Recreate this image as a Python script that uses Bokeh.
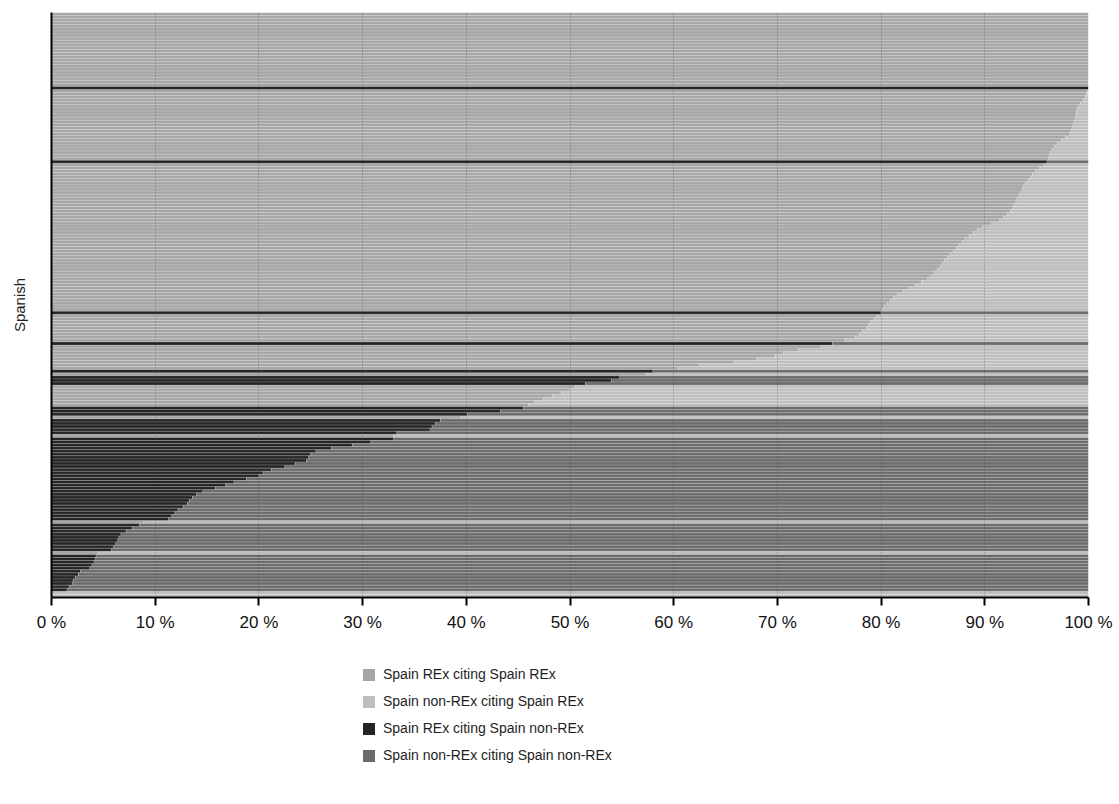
from bokeh.plotting import figure
from bokeh.layouts import column
from bokeh.models import Range1d, FixedTicker, Legend, LegendItem, ColumnDataSource
from bokeh.embed import file_html
from bokeh.resources import INLINE

# ---------------- data ----------------
series_names = [
    "Spain REx citing Spain REx",
    "Spain non-REx citing Spain REx",
    "Spain REx citing Spain non-REx",
    "Spain non-REx citing Spain non-REx",
]
series_colors = ["#a6a6a6", "#bebebe", "#252525", "#6b6b6b"]

x_ticks = [0, 10, 20, 30, 40, 50, 60, 70, 80, 90, 100]
x_tick_labels = ["0 %", "10 %", "20 %", "30 %", "40 %", "50 %",
                 "60 %", "70 %", "80 %", "90 %", "100 %"]
y_axis_title = "Spanish"

# share (%) of citations coming from Spain REx, one value per row, top to bottom
rex_share = [
    100, 100, 100, 100, 100, 100, 100, 100, 100, 100,
    100, 100, 100, 100, 100, 100, 100, 100, 100, 100,
    100, 100, 100, 100, 100, 99.9, 99.8, 99.7, 99.5, 99.2,
    99.0, 98.9, 98.8, 98.8, 98.7, 98.6, 98.5, 98.4, 98.3, 98.2,
    97.8, 97.4, 97.0, 96.7, 96.5, 96.3, 96.2, 96.1, 96.0, 95.7,
    95.3, 94.9, 94.6, 94.4, 94.2, 93.9, 93.7, 93.6, 93.4, 93.3,
    93.1, 93.0, 92.8, 92.7, 92.5, 92.2, 91.8, 91.4, 90.6, 89.8,
    89.3, 88.9, 88.5, 88.1, 87.8, 87.5, 87.3, 87.0, 86.7, 86.4,
    86.1, 85.9, 85.7, 85.4, 85.1, 84.8, 84.5, 83.9, 83.3, 82.7,
    82.1, 81.6, 81.2, 80.9, 80.6, 80.3, 80.1, 80.0, 79.6, 79.3,
    79.0, 78.8, 78.6, 78.2, 77.9, 77.5, 76.5, 75.3, 74.2, 72.0,
    70.6, 69.8, 68.0, 65.8, 62.5, 60.4, 58.0, 57.3, 54.8, 54.0,
    51.5, 50.5, 50.0, 49.2, 48.3, 47.4, 46.6, 46.0, 45.5, 43.3,
    40.1, 39.5, 37.5, 37.0, 36.7, 36.5, 33.3, 33.0, 33.0, 30.8,
    29.0, 27.0, 25.5, 25.0, 24.8, 24.6, 23.5, 22.5, 21.2, 20.4,
    20.0, 18.8, 17.6, 16.8, 15.8, 14.6, 14.0, 13.6, 13.3, 13.1,
    12.7, 12.2, 11.9, 11.6, 11.3, 8.9, 8.5, 7.8, 7.2, 6.7,
    6.5, 6.4, 6.2, 6.0, 5.8, 4.5, 4.3, 4.2, 4.1, 3.9,
    3.7, 2.8, 2.6, 2.3, 2.1, 2.0, 1.7, 1.5, 0, 0,
]

# group of the cited row: R = Spain REx, N = Spain non-REx (top to bottom)
cited_group = (
    "RRRRRRRRRR" "RRRRRRRRRR" "RRRRNRRRRR" "RRRRRRRRRR" "RRRRRRRRNR"
    "RRRRRRRRRR" "RRRRRRRRRR" "RRRRRRRRRR" "RRRRRRRRRR" "RRRRRRRNRR"
    "RRRRRRRNRR" "RRRRRRNRNN" "NRRRRRRRNN" "NRNNNNNRNN" "NNNNNNNNNN"
    "NNNNNNNNNN" "NNNNNRNNNN" "NNNNNRNNNN" "NNNNNNNNRR"
)

# ---------------- build the stacked series ----------------
N = len(rex_share)
rows = [i + 0.5 for i in range(N)]
rex_rex = [s if g == "R" else 0 for s, g in zip(rex_share, cited_group)]
nonrex_rex = [100 - s if g == "R" else 0 for s, g in zip(rex_share, cited_group)]
rex_nonrex = [s if g == "N" else 0 for s, g in zip(rex_share, cited_group)]
nonrex_nonrex = [100 - s if g == "N" else 0 for s, g in zip(rex_share, cited_group)]

keys = ["rex_rex", "nonrex_rex", "rex_nonrex", "nonrex_nonrex"]
source = ColumnDataSource(data=dict(row=rows, rex_rex=rex_rex, nonrex_rex=nonrex_rex,
                                    rex_nonrex=rex_nonrex, nonrex_nonrex=nonrex_nonrex))

FONT = "Liberation Sans"
W = 1115

p = figure(width=W, height=640, output_backend="svg", toolbar_location=None,
           x_range=Range1d(0, 100), y_range=Range1d(N, 0),
           min_border_left=51, min_border_top=12, min_border_right=27,
           min_border_bottom=43)
p.outline_line_color = None
p.background_fill_color = "white"
p.border_fill_color = "white"

renderers = p.hbar_stack(keys, y="row", height=1.0, source=source,
                         fill_color=series_colors, line_color="white",
                         line_alpha=0.18, line_width=1)

# grid
p.ygrid.visible = False
p.xgrid.ticker = FixedTicker(ticks=x_ticks[1:-1])
p.xgrid.grid_line_color = "#404040"
p.xgrid.grid_line_alpha = 0.5
p.xgrid.grid_line_dash = "1 2"
p.xgrid.level = "overlay"

# x axis
xa = p.xaxis[0]
xa.ticker = FixedTicker(ticks=x_ticks)
xa.major_label_overrides = {t: lab for t, lab in zip(x_ticks, x_tick_labels)}
xa.axis_line_color = "black"
xa.axis_line_width = 2
xa.major_tick_line_color = "black"
xa.major_tick_line_width = 2
xa.major_tick_out = 8
xa.major_tick_in = 0
xa.minor_tick_line_color = None
xa.major_label_standoff = 7
xa.major_label_text_font = FONT
xa.major_label_text_font_size = "17px"
xa.major_label_text_color = "#111111"

# y axis
ya = p.yaxis[0]
ya.ticker = FixedTicker(ticks=[])
ya.axis_line_color = "black"
ya.axis_line_width = 2
ya.major_tick_out = 0
ya.major_tick_in = 0
ya.minor_tick_line_color = None
ya.major_label_standoff = 0
ya.axis_label = y_axis_title
ya.axis_label_standoff = 24
ya.axis_label_text_font = FONT
ya.axis_label_text_font_size = "15px"
ya.axis_label_text_font_style = "normal"
ya.axis_label_text_color = "#222222"

# ---------------- legend panel (below the chart) ----------------
LH = 150
q = figure(width=W, height=LH, output_backend="svg", toolbar_location=None,
           x_range=Range1d(0, 1), y_range=Range1d(0, 1),
           min_border_left=0, min_border_right=0, min_border_top=0, min_border_bottom=0)
q.axis.visible = False
q.grid.visible = False
q.outline_line_color = None
q.border_fill_color = "white"
q.background_fill_color = "white"

# legend swatches: one zero-width bar per series, placed outside the visible range
swatches = []
for name, col in zip(series_names, series_colors):
    r = q.hbar(y=[-5], left=[0], right=[0], height=1, fill_color=col, line_color=None)
    swatches.append(r)

legend = Legend(
    items=[LegendItem(label=name, renderers=[r]) for name, r in zip(series_names, swatches)],
    location=(310, 27), orientation="vertical",
    glyph_width=15, glyph_height=15, label_standoff=7, spacing=11, label_height=12,
    padding=0, margin=0, border_line_color=None, background_fill_alpha=0,
    label_text_font=FONT, label_text_font_size="14px", label_text_color="#1e1e1e",
)
q.add_layout(legend, "center")

open("out.html", "w").write(file_html(column(p, q, spacing=0), INLINE))
